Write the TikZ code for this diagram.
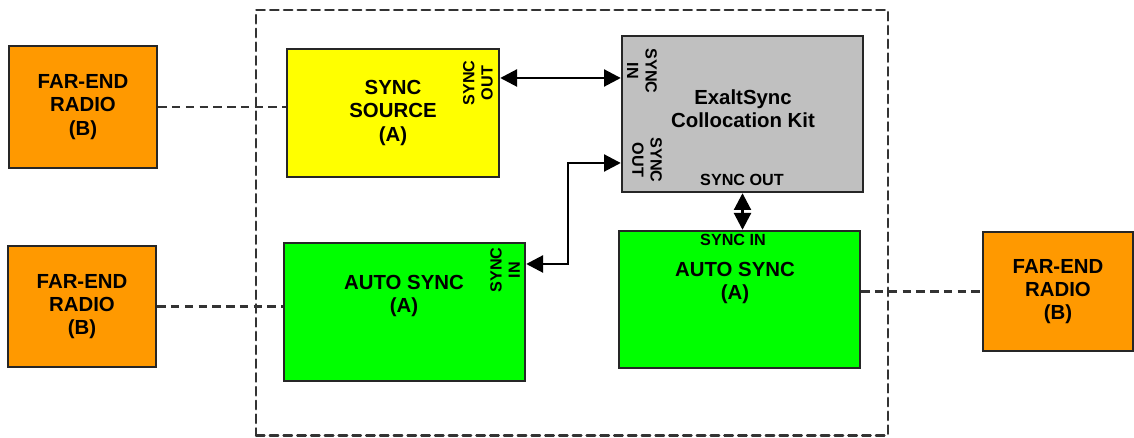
\documentclass[tikz,border=0pt]{standalone}
\usepackage{fontspec}
\setmainfont{Liberation Sans}
\usepackage{tkz-euclide}
\usepackage{tikz}
\usetikzlibrary{arrows.meta}

\tikzset{
    unitbox/.style={draw=black!85, line width=1.7pt, minimum width=#1, inner sep=0pt},
    mainfont/.style={font=\fontsize{14.5}{16.5}\selectfont\bfseries, align=center},
    portfont/.style={font=\fontsize{11.5}{13}\selectfont\bfseries, align=center, inner sep=0pt},
    linkline/.style={black!80, line width=1.7pt, dash pattern=on 6pt off 3.8pt},
    syncarrow/.style={line width=2pt, {Triangle[length=0.42cm,width=0.42cm]}-{Triangle[length=0.42cm,width=0.42cm]}}
}

\begin{document}
\begin{tikzpicture}[scale=1, rotate=0]
    \useasboundingbox (0,0) rectangle (28.35,10.95);
    \tkzDefPoints{6.4/0.06/A,22.2/0.06/B,22.2/10.7/C,6.4/10.7/D,14.2/6.875/P,14.2/4.35/Q,0/9.0/S}
    \tkzDrawPolygon[linkline](A,B,C,D)
    % far-end radios
    \node[unitbox=3.7cm, minimum height=3.05cm, fill={rgb,255:red,255;green,153;blue,0}, mainfont] (rad1) at (2.075,8.275) {FAR-END\\RADIO\\(B)};
    \node[unitbox=3.7cm, minimum height=3.025cm, fill={rgb,255:red,255;green,153;blue,0}, mainfont] (rad2) at (2.05,3.2875) {FAR-END\\RADIO\\(B)};
    \node[unitbox=3.75cm, minimum height=2.975cm, fill={rgb,255:red,255;green,153;blue,0}, mainfont] (rad3) at (26.45,3.6625) {FAR-END\\RADIO\\(B)};
    % units inside the site
    \node[unitbox=5.3cm, minimum height=3.2cm, fill={rgb,255:red,255;green,255;blue,0}, mainfont] (src) at (9.825,8.125) {SYNC\\SOURCE\\(A)};
    \node[unitbox=6.025cm, minimum height=3.45cm, fill=green] (autoL) at (10.1125,3.15) {};
    \node[unitbox=6.025cm, minimum height=3.9cm, fill={rgb,255:red,192;green,192;blue,192}] (kit) at (18.5625,8.1) {};
    \node[unitbox=6.025cm, minimum height=3.425cm, fill=green] (autoR) at (18.4875,3.4625) {};
    \node[mainfont] (autoLtxt) at (10.1,3.55) {AUTO SYNC\\(A)};
    \node[mainfont] (autoRtxt) at (18.375,3.875) {AUTO SYNC\\(A)};
    \node[mainfont] (kittxt) at (18.575,8.225) {ExaltSync\\Collocation Kit};
    % port labels
    \node[portfont, rotate=90] (srcOut) at (11.95,8.875) {SYNC\\OUT};
    \node[portfont, rotate=-90] (kitIn) at (16.05,9.175) {SYNC\\IN};
    \node[portfont, rotate=-90] (kitOut) at (16.175,6.95) {SYNC\\OUT};
    \node[portfont] (kitOutB) at (18.55,6.45) {SYNC OUT};
    \node[portfont] (autoRIn) at (18.325,4.95) {SYNC IN};
    \node[portfont, rotate=90] (autoLIn) at (12.625,4.2) {SYNC\\IN};
    % radio links
    \draw[linkline] (rad1.east) -- (src.west |- rad1.east);
    \draw[linkline] (rad2.east) -- (autoL.west |- rad2.east);
    \draw[linkline] (autoR.east |- rad3.west) -- (rad3.west);
    % sync links
    \draw[syncarrow] (src.east |- S) -- (kit.west |- S);
    \draw[syncarrow] (kit.west |- P) -- (P) -- (Q) -- (autoL.east |- Q);
    \draw[syncarrow] (kit.south) -- (kit.south |- autoR.north);
\end{tikzpicture}
\end{document}
